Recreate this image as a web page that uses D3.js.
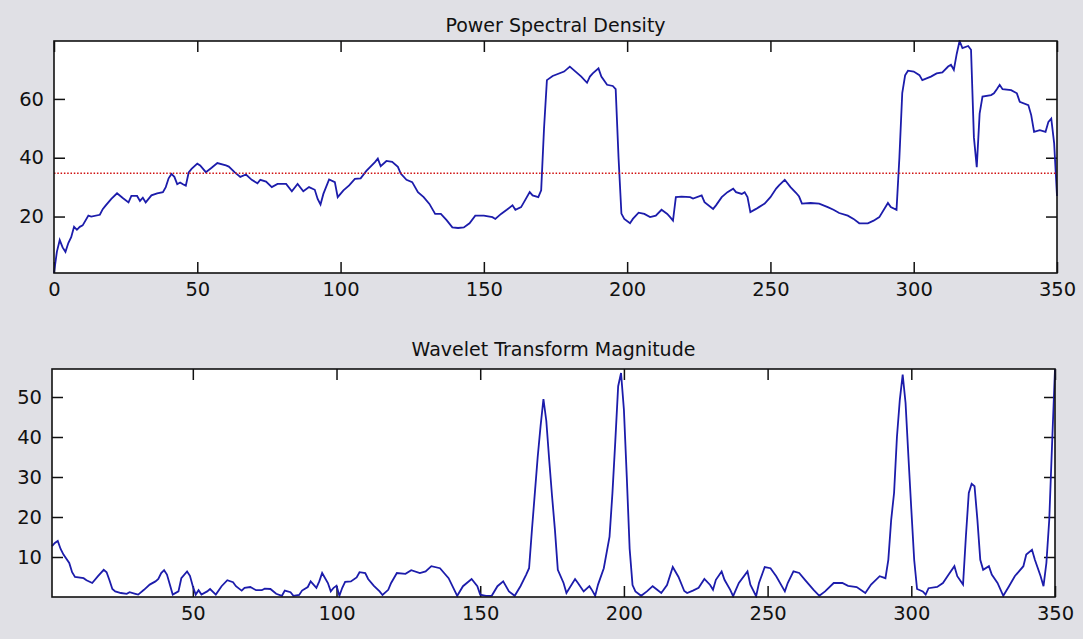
<!DOCTYPE html>
<html>
<head>
<meta charset="utf-8">
<script src="https://cdn.jsdelivr.net/npm/d3@7"></script>
<style>
  body { margin: 0; background: #e0e0e5; }
  svg { display: block; }
  .tick text { font-family: "DejaVu Sans", "Liberation Sans", sans-serif; font-size: 19.5px; fill: #111; }
  .title { font-family: "DejaVu Sans", "Liberation Sans", sans-serif; font-size: 19px; fill: #111; }
</style>
</head>
<body>
<svg id="fig" width="1083" height="639"></svg>
<script>
// Power spectral density (sample index, value)
const psdX = [0,1,2,3,4,5,6,7,8,9,10,12,13,16,17,18,20,22,24,26,27,29,30,31,32,34,36,38,39,40,41,42,43,44,45,46,47,48,50,51,53,55,57,60,61,63,65,67,69,71,72,74,76,78,81,83,85,87,89,91,92,93,94,96,98,99,101,103,105,107,109,112,113,114,116,118,120,121,123,125,127,129,131,133,135,137,139,141,143,145,147,150,153,154,156,158,160,161,163,164,166,167,169,170,171,172,174,178,180,182,184,186,187,188,190,191,193,195,196,197,198,199,201,202,204,206,208,210,212,214,215,216,217,219,222,223,226,227,230,231,233,235,237,238,240,241,242,243,245,246,248,250,252,253,255,257,259,260,261,264,267,270,272,274,277,279,281,284,286,288,291,292,294,295,296,297,298,300,302,303,306,308,310,312,313,314,315,316,317,319,320,321,322,323,324,327,328,329,330,331,334,336,337,340,341,342,344,346,347,348,349,350];
const psdY = [0.8,8,12,9.5,8,11,13,16.5,15.5,16.5,17,20.3,20,20.6,22.5,23.7,26,27.9,26.3,24.8,27,27,25.3,26.4,24.8,27.2,27.9,28.3,30,33,34.5,33.5,31,31.6,31,30.5,35,36.2,38,37.4,35.1,36.6,38.2,37.4,37,35.1,33.5,34.3,32.5,31.3,32.5,31.9,30,31.1,31.1,28.6,31.1,28.6,30,29.1,26,24.1,27.7,32.6,31.7,26.6,28.9,30.6,32.8,33,35.5,38.5,39.7,37.1,38.9,38.6,36.9,34.6,32.5,31.7,28.3,26.6,24.3,20.9,20.9,18.8,16.3,16.1,16.3,17.7,20.3,20.3,19.8,19.2,20.9,22.3,23.8,22.3,23.2,24.9,28.3,27.2,26.6,28.9,50,66.4,67.8,69.3,71,69.3,67.6,65.5,67.6,68.7,70.4,67.6,64.8,64.4,63.3,40,21,19.2,17.7,19.2,21.3,20.9,19.8,20.3,22.3,20.9,19.8,18.6,26.6,26.8,26.6,26.1,27.2,24.9,22.6,23.8,26.6,28.3,29.5,28.3,27.7,28.3,26.6,21.5,22.6,23.2,24.4,26.6,29.5,30.6,32.5,30,28,26.8,24.4,24.6,24.4,23.2,22.3,21.2,20.3,19.2,17.7,17.7,18.6,19.8,24.6,23.2,22.3,40,62,68,69.6,69.3,68.1,66.4,67.6,68.7,69,71,71.6,69.9,75.3,79.7,77.3,78,76.7,47,36.8,55,60.8,61.3,61.9,63.3,64.8,63.3,63,61.9,59,57.9,54.5,48.8,49.4,48.8,52.2,53.3,45,27];
const psdThreshold = 34.7;

// Wavelet transform magnitude (sample index, value)
const wtX = [1,2,3,4,5,7,8,9,12,13,15,17,19,20,21,22,23,25,27,28,30,31,33,35,37,38,39,40,41,42,43,45,46,48,49,50,51,52,53,55,56,58,60,62,64,65,67,68,70,72,74,75,77,79,81,82,84,85,87,88,90,91,93,94,95,97,98,99,100,101,102,103,105,107,108,110,111,113,115,116,118,119,121,124,126,129,131,133,136,139,142,144,147,149,150,152,154,156,158,160,162,164,166,167,168,169,170,171,172,173,174,175,176,177,179,180,183,184,186,188,189,190,191,193,195,196,197,198,199,200,201,202,203,204,206,208,210,213,215,217,219,221,222,224,226,228,230,231,232,234,235,237,238,240,243,244,246,247,249,251,253,256,257,259,261,263,266,268,270,273,276,278,281,284,286,289,291,292,293,294,295,296,297,298,299,300,301,302,304,305,306,309,311,313,315,316,318,319,320,321,322,323,324,325,327,328,330,332,334,336,339,340,342,343,345,346,347,348,349,350];
const wtY = [12.7,13.5,14,12,10.6,8.5,6.2,5,4.7,4.2,3.5,5.2,6.8,6.2,4.2,2,1.4,1,0.8,1.2,0.8,0.6,1.8,3.1,3.9,4.5,6,6.7,5.6,3.1,0.6,1.4,4.7,6.4,5.3,2.7,0.6,1.7,0.6,1.4,2,0.6,2.7,4.2,3.7,2.7,1.6,2.3,2.5,1.7,1.7,2.1,2,0.8,0.3,1.6,1.2,0.3,0.5,1.6,2.5,3.9,2.3,3.9,6,3.5,1.4,2.3,2.8,0.3,2.3,3.8,3.9,4.9,6.2,6,4.5,2.8,1.4,0.5,1.8,3.5,6,5.8,6.7,6,6.4,7.7,7.2,4.7,0.3,2.7,4.5,2.7,0.6,0.3,0.3,2.7,3.9,1.4,0.3,2.7,5.6,7.2,16.8,25.9,35,42.7,49.5,44,34.3,25.2,16.8,6.8,3.5,1,4.5,3.5,1.4,2.7,1.6,0.3,3.1,7.2,15.1,25.9,38.9,52.7,56,46.8,30,12,3,1.4,0.3,1.4,2.7,1,3,7.5,5,1.5,1,1.6,2.3,4.5,3,1.8,4.3,6.4,4.3,1.8,0.2,3.5,6.4,3.1,0.2,3.5,7.5,7.2,5.2,1.4,3.5,6.4,6,4.3,1.8,0.3,1.4,3.5,3.5,2.8,2.5,1,3.1,5.2,4.7,9.3,19.3,26,40,49.3,55.6,48.5,35,22,9.3,2,1.4,0.6,2.2,2.5,3.5,5.6,7.7,5.2,3.1,15.2,26,28.3,27.7,19.3,9.3,6.8,7.7,5.6,3.5,0.3,2.7,5.2,7.7,10.6,11.8,9.3,5.2,2.7,8.5,19.3,38.5,57];

// Tick values
const psdXTicks = [0, 50, 100, 150, 200, 250, 300, 350];
const psdYTicks = [20, 40, 60];
const wtXTicks = [50, 100, 150, 200, 250, 300, 350];
const wtYTicks = [10, 20, 30, 40, 50];

const svg = d3.select("#fig");
const lineColor = "#1c1cab";
const tickLen = 11;

function panel(cfg) {
  const { left, right, top, bottom, xs, ys, xDomain, yDomain, xTicks, yTicks, title, titleY } = cfg;
  const x = d3.scaleLinear().domain(xDomain).range([left, right]);
  const y = d3.scaleLinear().domain(yDomain).range([bottom, top]);

  svg.append("rect")
    .attr("x", left).attr("y", top)
    .attr("width", right - left).attr("height", bottom - top)
    .attr("fill", "#ffffff");

  const g = svg.append("g");

  // inward ticks on all four sides, labels on left and bottom only
  g.append("g").attr("transform", `translate(0,${bottom})`)
    .call(d3.axisBottom(x).tickValues(xTicks).tickSize(-tickLen).tickPadding(9).tickFormat(d3.format("d")));
  g.append("g").attr("transform", `translate(0,${top})`)
    .call(d3.axisTop(x).tickValues(xTicks).tickSize(-tickLen).tickFormat(""));
  g.append("g").attr("transform", `translate(${left},0)`)
    .call(d3.axisLeft(y).tickValues(yTicks).tickSize(-tickLen).tickPadding(10).tickFormat(d3.format("d")));
  g.append("g").attr("transform", `translate(${right},0)`)
    .call(d3.axisRight(y).tickValues(yTicks).tickSize(-tickLen).tickFormat(""));
  g.selectAll(".domain").remove();
  g.selectAll(".tick line").attr("stroke", "#111").attr("stroke-width", 1.5);

  const clipId = "clip" + Math.round(top);
  svg.append("clipPath").attr("id", clipId)
    .append("rect").attr("x", left - 1).attr("y", top - 1)
    .attr("width", right - left + 2).attr("height", bottom - top + 2);

  const line = d3.line().x(d => x(d[0])).y(d => y(d[1]));
  svg.append("path")
    .datum(d3.zip(xs, ys))
    .attr("clip-path", `url(#${clipId})`)
    .attr("fill", "none")
    .attr("stroke", lineColor)
    .attr("stroke-width", 1.8)
    .attr("stroke-linejoin", "miter")
    .attr("d", line);

  svg.append("text")
    .attr("class", "title")
    .attr("x", (left + right) / 2).attr("y", titleY)
    .attr("text-anchor", "middle")
    .text(title);

  return { x, y, frame: () => svg.append("rect")
    .attr("x", left).attr("y", top)
    .attr("width", right - left).attr("height", bottom - top)
    .attr("fill", "none").attr("stroke", "#111").attr("stroke-width", 1.6) };
}

// Upper panel: PSD with threshold
const p1 = panel({
  left: 54, right: 1057, top: 41, bottom: 273,
  xs: psdX, ys: psdY,
  xDomain: [0, 350], yDomain: d3.extent(psdY),
  xTicks: psdXTicks, yTicks: psdYTicks,
  title: "Power Spectral Density", titleY: 32
});
svg.append("line")
  .attr("x1", p1.x(0)).attr("x2", p1.x(350))
  .attr("y1", p1.y(psdThreshold)).attr("y2", p1.y(psdThreshold))
  .attr("stroke", "#d01010").attr("stroke-width", 1.4)
  .attr("stroke-dasharray", "1.5,1.8");
p1.frame();

// Lower panel: wavelet magnitude
const p2 = panel({
  left: 52, right: 1055, top: 369, bottom: 597,
  xs: wtX, ys: wtY,
  xDomain: [1, 350], yDomain: [0, d3.max(wtY)],
  xTicks: wtXTicks, yTicks: wtYTicks,
  title: "Wavelet Transform Magnitude", titleY: 356
});
p2.frame();
</script>
</body>
</html>
